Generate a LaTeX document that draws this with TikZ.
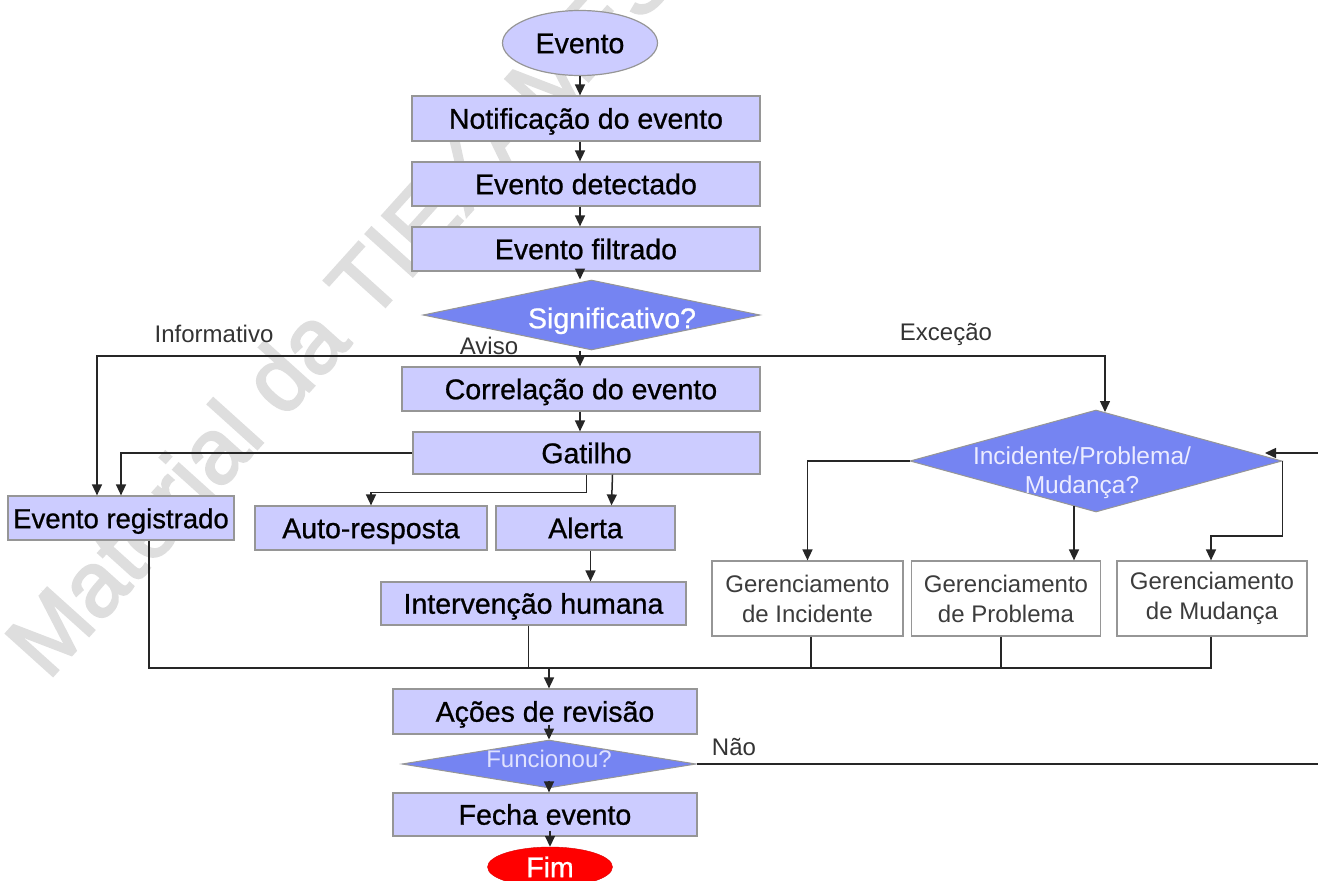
\documentclass[tikz,border=0pt]{standalone}
\usepackage{fontspec}
\setmainfont{Liberation Sans}
\newfontfamily\heavyfont{Liberation Sans}[FakeBold=0.8]
\newfontfamily\markfont{Liberation Sans}[FakeBold=2.5]
\usetikzlibrary{shapes.geometric,arrows.meta,calc}
\definecolor{boxfill}{RGB}{204,204,255}
\definecolor{dfill}{RGB}{117,132,242}
\definecolor{edge}{RGB}{150,150,150}
\definecolor{lbl}{RGB}{51,51,51}
\definecolor{mgtxt}{RGB}{60,60,60}
\definecolor{wmk}{RGB}{222,222,222}
\definecolor{paletxt}{RGB}{236,236,255}
\definecolor{finred}{RGB}{255,0,0}
\begin{document}
\begin{tikzpicture}[x=1pt,y=-1pt,
  dims/.style 2 args={minimum width=#1,minimum height=#2},
  big/.style={font=\heavyfont\fontsize{28.5}{31}\selectfont,text height=20.4pt,text depth=0pt},
  box/.style={rectangle,draw=edge,fill=boxfill,line width=1.2pt,inner sep=0pt,big},
  mgmt/.style={rectangle,draw=edge,fill=white,line width=1.2pt,inner sep=0pt,
    align=center,text=mgtxt,font=\fontsize{24}{30}\selectfont},
  dia/.style={diamond,draw=edge,fill=dfill,line width=1pt,inner sep=0pt},
  dtext/.style={inner sep=0pt,align=center},
  lab/.style={inner sep=0pt,text=lbl,font=\fontsize{24}{26}\selectfont},
  line/.style={draw=black!85,line width=1.5pt},
  arr/.style={line,-{Triangle[length=11pt,width=10pt]}}
]
\useasboundingbox (0,0) rectangle (1318,881);

% watermark behind the chart
\node[rotate=48,text=wmk,font=\markfont\fontsize{92}{92}\selectfont] (wm) at (340,308) {Material da TIEXAMES};

% main column
\node[ellipse,draw=edge,fill=boxfill,line width=1.2pt,inner sep=0pt,dims={155}{65},big] (ev) at (580,43) {Evento};
\node[box,dims={348}{45}] (notif) at (586,118.5) {Notificação do evento};
\node[box,dims={348}{44}] (det) at (586,184) {Evento detectado};
\node[box,dims={348}{44}] (filt) at (586,249) {Evento filtrado};
\node[dia,dims={337}{70}] (sig) at (591.5,315) {};
\node[dtext,text=white,big] (sigt) at (612,318) {Significativo?};
\node[box,dims={358}{44}] (corr) at (581,389) {Correlação do evento};
\node[box,dims={347}{42}] (gat) at (586.5,453) {Gatilho};
\node[box,dims={226}{44},font=\heavyfont\fontsize{27.5}{30}\selectfont] (reg) at (121,518) {Evento registrado};
\node[box,dims={232}{44}] (auto) at (371,528) {Auto-resposta};
\node[box,dims={179}{44}] (ale) at (585.5,528) {Alerta};
\node[box,dims={305}{43}] (int) at (533.5,603.5) {Intervenção humana};

% exception branch
\node[dia,dims={372}{102}] (inc) at (1096,461) {};
\node[dtext,text=paletxt,font=\fontsize{24.5}{29}\selectfont] (inct) at (1082,473) {Incidente/Problema/\\Mudança?};
\node[mgmt,dims={191}{75}] (gi) at (807.5,598.5) {Gerenciamento\\de Incidente};
\node[mgmt,dims={189}{75}] (gp) at (1006,598.5) {Gerenciamento\\de Problema};
\node[mgmt,dims={190}{75}] (gm) at (1212,598.5) {Gerenciamento\\de Mudança};

% closing part
\node[box,dims={304}{45}] (acoes) at (545,711.5) {Ações de revisão};
\node[dia,dims={294}{48}] (func) at (549,764) {};
\node[dtext,text=paletxt!90!dfill,font=\fontsize{24}{26}\selectfont] (funct) at (549,759) {Funcionou?};
\node[box,dims={304}{43}] (fecha) at (545,814.5) {Fecha evento};
\node[ellipse,draw=finred!85!black,fill=finred,inner sep=0pt,dims={125}{40},text=white,big] (fim) at (550,867) {Fim};

% branch labels
\node[lab] (linf) at (214,334) {Informativo};
\node[lab] (lav) at (489,346) {Aviso};
\node[lab] (lexc) at (946,334) {Exceção};
\node[lab] (lnao) at (734,747) {Não};

% helper points
\coordinate (ax) at (580,0);
\coordinate (br) at (580,356);
\coordinate (excT) at (1105,412);
\coordinate (incB) at (1074,506);
\coordinate (mg) at (549,668);
\coordinate (rin) at (1318,453);
\coordinate (rhit) at (1265,453);

% main column connectors
\draw[arr] (ev.south) -- (ev.south |- notif.north);
\draw[arr] (ax |- notif.south) -- (ax |- det.north);
\draw[arr] (ax |- det.south) -- (ax |- filt.north);
\draw[arr] (ax |- filt.south) -- (ax |- sig.north);
\draw[arr] (ax |- sig.south) -- (ax |- corr.north);
\draw[arr] (br) -| ([xshift=-24pt]reg.north);
\draw[arr] (br) -| (excT);
\draw[arr] (ax |- corr.south) -- (ax |- gat.north);
\draw[arr] (gat.west) -| (reg.north);
\draw[arr] (gat.south) -- ++(0,18) -| (auto.north);
\draw[arr] ([xshift=26pt]gat.south) -- ([xshift=26pt]ale.north);
\draw[arr] ([xshift=5pt]ale.south) -- ([xshift=5pt]ale.south |- int.north);

% exception branch connectors
\draw[arr] (inc.west) -| (gi.north);
\draw[arr] (incB) -- (incB |- gp.north);
\draw[arr] (inc.east) -- ++(0,75) -| ([xshift=-1pt]gm.north);
\draw[arr] (rin) -- (rhit);

% merge into review
\draw[line] ([xshift=28pt]reg.south) |- (mg);
\draw[line] ([xshift=-5pt]int.south) |- (mg);
\draw[line] ([xshift=3.5pt]gi.south) |- (mg);
\draw[line] ([xshift=-5pt]gp.south) |- (mg);
\draw[line] ([xshift=-1pt]gm.south) |- (mg);
\draw[arr] (mg) -- (mg |- acoes.north);

% closing connectors
\draw[arr] (func.north |- acoes.south) ++(0,-10) -- (func.north);
\draw[arr] (func.south) ++(0,-8) -- (func.south |- fecha.north);
\draw[arr] (fim.north |- fecha.south) ++(0,-6) -- (fim.north);
\draw[line] (func.east) -- (func.east -| rin);
\end{tikzpicture}
\end{document}
